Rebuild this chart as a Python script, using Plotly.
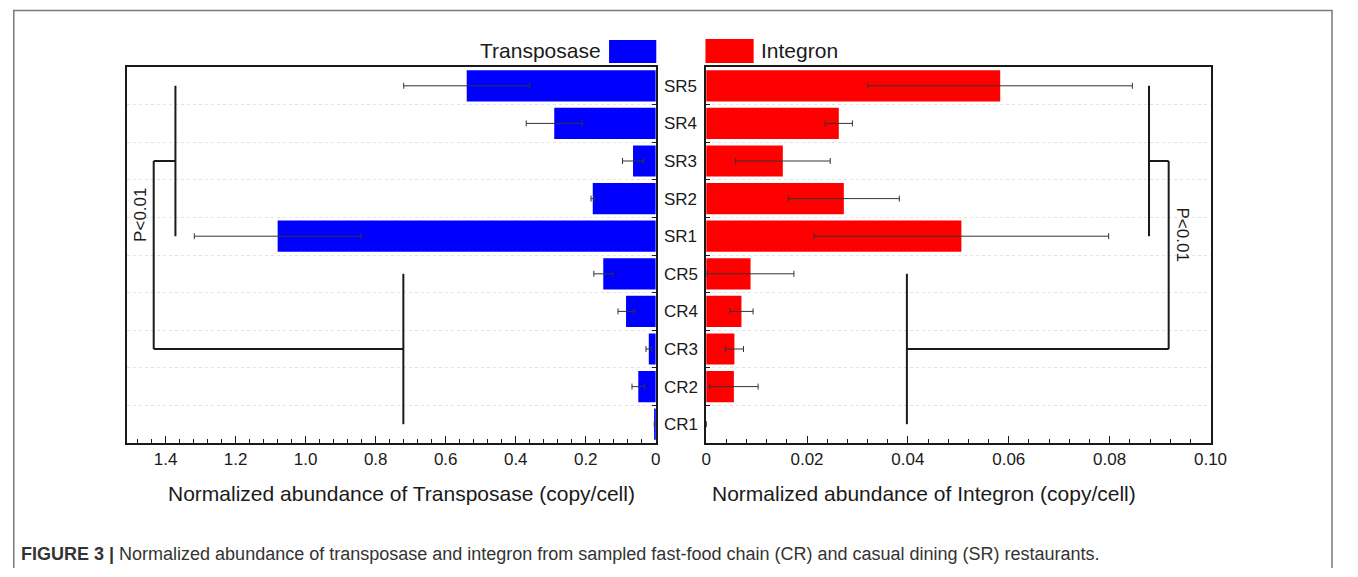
import plotly.graph_objects as go

# ---------------- data ----------------
samples = ["SR5", "SR4", "SR3", "SR2", "SR1", "CR5", "CR4", "CR3", "CR2", "CR1"]
transposase = [0.54, 0.29, 0.065, 0.18, 1.08, 0.15, 0.085, 0.02, 0.05, 0.004]
transposase_err = [0.18, 0.08, 0.03, 0.005, 0.238, 0.027, 0.023, 0.008, 0.018, 0.0]
integron = [0.0583, 0.0263, 0.0152, 0.0273, 0.0506, 0.0088, 0.0070, 0.0056, 0.0055, 0.0]
integron_err = [0.0262, 0.0027, 0.0094, 0.011, 0.0292, 0.0086, 0.0023, 0.0018, 0.0048, 0.0]

left_ticks = [1.4, 1.2, 1.0, 0.8, 0.6, 0.4, 0.2, 0.0]
left_ticktext = ["1.4", "1.2", "1.0", "0.8", "0.6", "0.4", "0.2", "0"]
right_ticks = [0.0, 0.02, 0.04, 0.06, 0.08, 0.10]
right_ticktext = ["0", "0.02", "0.04", "0.06", "0.08", "0.10"]

# significance brackets (x levels: inner SR, outer, CR)
tp_bracket = [1.372, 1.434, 0.721]
in_bracket = [0.0878, 0.0917, 0.0398]

caption = ("<b>FIGURE 3 |</b> Normalized abundance of transposase and integron from sampled "
           "fast-food chain (CR) and casual dining (SR) restaurants.")

FONT = "Arial, 'Liberation Sans', Helvetica, sans-serif"
BLUE = "#0000ff"
RED = "#ff0000"
INK = "#1a1a1a"

# page body has an 8px margin; size the figure so the page fits the window
OX, OY = 8, 8
W, H = 1342, 560
def px(x):
    return (x - OX) / W
def py(y):
    return 1 - (y - OY) / H

order = list(reversed(samples))

fig = go.Figure()

fig.add_trace(go.Bar(
    x=transposase, y=samples, orientation="h", marker=dict(color=BLUE, line=dict(width=0)),
    width=0.83,
    error_x=dict(type="data", array=transposase_err, symmetric=True, color="#333333",
                 thickness=1, width=3),
    xaxis="x", yaxis="y", showlegend=False))

fig.add_trace(go.Bar(
    x=integron, y=samples, orientation="h", marker=dict(color=RED, line=dict(width=0)),
    width=0.83,
    error_x=dict(type="data", array=integron_err, symmetric=True, color="#333333",
                 thickness=1, width=3),
    xaxis="x2", yaxis="y2", showlegend=False))

def bracket(levels):
    a, b, c = levels
    xs = [a, a, None, a, b, None, b, b, None, b, c, None, c, c]
    ys = ["SR5", "SR1", None, "SR3", "SR3", None, "SR3", "CR3", None, "CR3", "CR3", None, "CR5", "CR1"]
    return xs, ys

bx, by = bracket(tp_bracket)
fig.add_trace(go.Scatter(x=bx, y=by, mode="lines", line=dict(color=INK, width=2),
                         xaxis="x", yaxis="y", showlegend=False, hoverinfo="skip"))
bx2, by2 = bracket(in_bracket)
fig.add_trace(go.Scatter(x=bx2, y=by2, mode="lines", line=dict(color=INK, width=2),
                         xaxis="x2", yaxis="y2", showlegend=False, hoverinfo="skip"))

ydom = [py(443), py(67)]
common_y = dict(type="category", categoryorder="array", categoryarray=order,
                range=[-0.5, 9.5], domain=ydom, showline=True, linecolor=INK, linewidth=1.5,
                mirror=True, ticks="inside", ticklen=4, tickcolor=INK, tickson="boundaries",
                showgrid=True, gridcolor="#e2e2e2", griddash="dot", gridwidth=1, zeroline=False)

fig.update_layout(
    width=W, height=H, autosize=False,
    margin=dict(l=0, r=0, t=0, b=0),
    paper_bgcolor="white", plot_bgcolor="white",
    font=dict(family=FONT, color=INK),
    xaxis=dict(domain=[px(124), px(661.5)], range=[1.51, 0], anchor="y",
               tickmode="array", tickvals=left_ticks, ticktext=left_ticktext,
               ticks="inside", ticklen=7, tickcolor=INK, tickwidth=1.2,
               minor=dict(tickmode="linear", tick0=0, dtick=0.04, ticks="inside",
                          ticklen=4, tickcolor=INK),
               showline=True, linecolor=INK, linewidth=1.5, mirror=True,
               showgrid=False, zeroline=False,
               tickfont=dict(size=17, color=INK)),
    yaxis=dict(**common_y, anchor="x", side="right", showticklabels=True,
               tickfont=dict(size=17, color=INK), ticklabelstandoff=3),
    xaxis2=dict(domain=[px(712.7), px(1225.5)], range=[0, 0.1], anchor="y2",
                tickmode="array", tickvals=right_ticks, ticktext=right_ticktext,
                ticks="inside", ticklen=7, tickcolor=INK, tickwidth=1.2,
                minor=dict(tickmode="linear", tick0=0, dtick=0.004, ticks="inside",
                           ticklen=4, tickcolor=INK),
                showline=True, linecolor=INK, linewidth=1.5, mirror=True,
                showgrid=False, zeroline=False,
                tickfont=dict(size=17, color=INK)),
    yaxis2=dict(**common_y, anchor="x2", side="left", showticklabels=False),
    bargap=0.17,
)

annotations = [
    dict(text="Normalized abundance of Transposase (copy/cell)", x=px(403), y=py(493),
         xref="paper", yref="paper", showarrow=False, font=dict(size=21, color=INK),
         xanchor="center", yanchor="middle"),
    dict(text="Normalized abundance of Integron (copy/cell)", x=px(934), y=py(493),
         xref="paper", yref="paper", showarrow=False, font=dict(size=21, color=INK),
         xanchor="center", yanchor="middle"),
    dict(text="P<0.01", x=px(137), y=py(215), xref="paper", yref="paper", showarrow=False,
         textangle=-90, font=dict(size=17, color=INK), xanchor="center", yanchor="middle"),
    dict(text="P<0.01", x=px(1198), y=py(235), xref="paper", yref="paper", showarrow=False,
         textangle=90, font=dict(size=17, color=INK), xanchor="center", yanchor="middle"),
    dict(text="Transposase", x=px(608), y=py(51), xref="paper", yref="paper", showarrow=False,
         font=dict(size=21, color=INK), xanchor="right", yanchor="middle"),
    dict(text="Integron", x=px(766), y=py(51), xref="paper", yref="paper", showarrow=False,
         font=dict(size=21, color=INK), xanchor="left", yanchor="middle"),
    dict(text=caption, x=px(14), y=py(554), xref="paper", yref="paper", showarrow=False,
         font=dict(size=18, color="#333333"), xanchor="left", yanchor="middle"),
]
fig.update_layout(annotations=annotations)

shapes = [
    dict(type="rect", xref="paper", yref="paper", x0=px(614), x1=px(662), y0=py(63), y1=py(40),
         fillcolor=BLUE, line=dict(width=0)),
    dict(type="rect", xref="paper", yref="paper", x0=px(712), x1=px(761), y0=py(63), y1=py(39),
         fillcolor=RED, line=dict(width=0)),
    dict(type="rect", xref="paper", yref="paper", x0=px(8.8), x1=px(1349), y0=-0.1, y1=py(10.5),
         fillcolor="rgba(0,0,0,0)", line=dict(color="#7a7a7a", width=1.5), layer="below"),
]
fig.update_layout(shapes=shapes)

fig.write_html("out.html")
